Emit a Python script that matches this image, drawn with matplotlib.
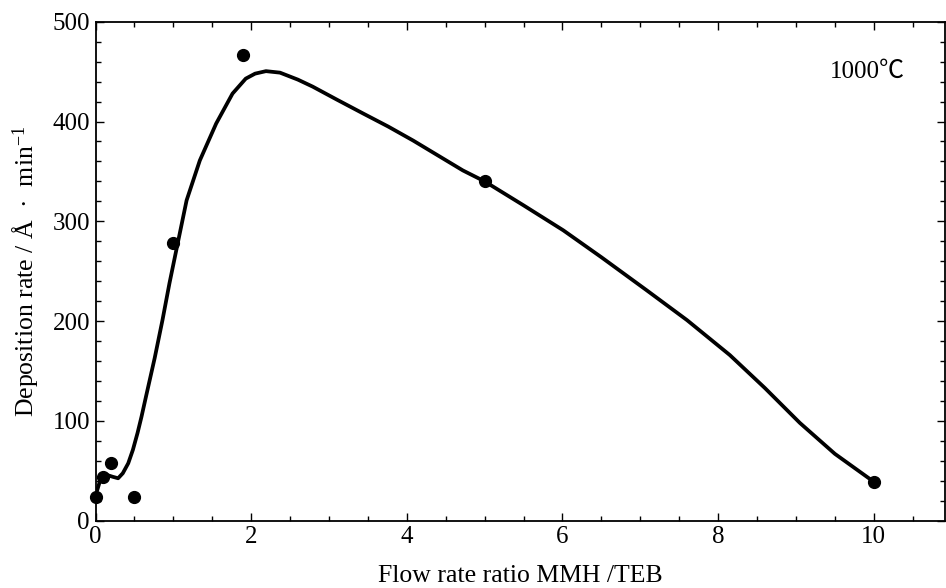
import matplotlib
matplotlib.use("Agg")
import matplotlib.pyplot as plt
from matplotlib.ticker import MultipleLocator

plt.rcParams['font.family'] = ['Liberation Serif', 'DejaVu Serif']
plt.rcParams['mathtext.fontset'] = 'custom'
plt.rcParams['mathtext.rm'] = 'Liberation Serif'
plt.rcParams['mathtext.it'] = 'Liberation Serif:italic'

# Measured data points
ratio = [0.0, 0.1, 0.2, 0.5, 1.0, 1.9, 5.0, 10.0]
rate = [24, 44, 58, 24, 278, 467, 340, 39]

# Hand-drawn trend curve
curve_x = [0.0, 0.05, 0.1, 0.14, 0.22, 0.29, 0.35, 0.42, 0.48, 0.54, 0.59,
           0.65, 0.76, 0.86, 0.95, 1.04, 1.17, 1.34, 1.55, 1.76, 1.93, 2.05,
           2.19, 2.37, 2.6, 2.79, 3.1, 3.44, 3.76, 4.08, 4.4, 4.72, 5.0, 5.5,
           6.01, 6.5, 7.08, 7.6, 8.15, 8.6, 9.05, 9.5, 10.0]
curve_y = [25, 38, 44, 46, 44, 42.5, 47.5, 57.5, 71, 88, 104,
           125, 163, 201, 238, 272, 321, 361, 398, 428, 443, 448,
           450.5, 449, 442, 435, 422, 408, 395, 381, 366, 351, 340, 316,
           291, 264, 231, 201, 166, 133, 98, 67, 39]

xticks = [0, 2, 4, 6, 8, 10]
yticks = [0, 100, 200, 300, 400, 500]

fig = plt.figure(figsize=(9.46, 5.88), dpi=100)
ax = fig.add_axes([0.101, 0.1145, 0.8975, 0.8485])

ax.plot(curve_x, curve_y, color='black', lw=2.7, solid_joinstyle='round',
        solid_capstyle='round', zorder=2)
ax.plot(ratio, rate, 'o', color='black', ms=8.5, zorder=3, clip_on=False)

ax.set_xlim(0, 10.91)
ax.set_ylim(0, 500)
ax.set_xticks(xticks)
ax.set_yticks(yticks)
ax.xaxis.set_minor_locator(MultipleLocator(0.5))
ax.yaxis.set_minor_locator(MultipleLocator(20))
ax.tick_params(which='both', direction='in', top=True, right=True,
               labelsize=18, width=1.0)
ax.tick_params(axis='x', pad=4)
ax.tick_params(axis='y', pad=4)
ax.tick_params(which='major', length=6)
ax.tick_params(which='minor', length=3.5)
for s in ax.spines.values():
    s.set_linewidth(1.3)

ax.set_xlabel('Flow rate ratio MMH /TEB', fontsize=18.5, labelpad=12)
ax.set_ylabel(r'Deposition rate / Å  ·  min$^{-1}$', fontsize=18.5, labelpad=8)

ax.text(9.43, 450, '1000℃', fontsize=18, ha='left', va='center',
        family=['Liberation Serif', 'Noto Sans CJK JP', 'DejaVu Serif'])

fig.savefig('out.png', dpi=100)
